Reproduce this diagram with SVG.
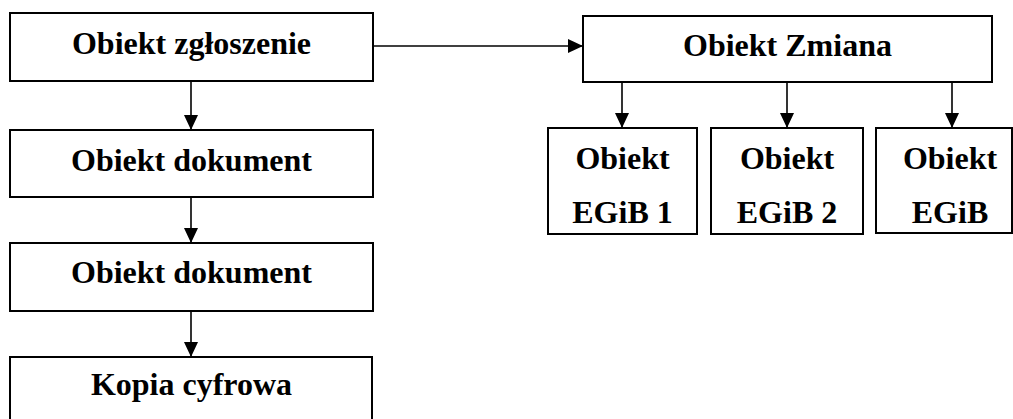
<svg xmlns="http://www.w3.org/2000/svg" width="1013" height="419" viewBox="0 0 1013 419">
<style>
.box{fill:#fff;stroke:#000;stroke-width:2}
.t{font-family:"Liberation Serif","Times New Roman",serif;font-weight:bold;font-size:32px;fill:#000;text-anchor:middle}
.c{fill:none;stroke:#000;stroke-width:1.6}
</style>
<defs>
<marker id="ah" markerUnits="userSpaceOnUse" markerWidth="15" markerHeight="14" refX="15" refY="7" orient="auto">
<path d="M0,0 L15,7 L0,14 z" fill="#000"/>
</marker>
</defs>
<rect width="1013" height="419" fill="#fff"/>
<g id="connectors">
<line class="c" x1="373" y1="46" x2="583" y2="46" marker-end="url(#ah)"/>
<line class="c" x1="191" y1="81" x2="191" y2="130" marker-end="url(#ah)"/>
<line class="c" x1="191" y1="197" x2="191" y2="243" marker-end="url(#ah)"/>
<line class="c" x1="191" y1="311" x2="191" y2="357" marker-end="url(#ah)"/>
<line class="c" x1="622" y1="82" x2="622" y2="128" marker-end="url(#ah)"/>
<line class="c" x1="787" y1="82" x2="787" y2="128" marker-end="url(#ah)"/>
<line class="c" x1="952" y1="82" x2="952" y2="128" marker-end="url(#ah)"/>
</g>
<g id="n-zgloszenie">
<rect class="box" x="10" y="13" width="363" height="68"/>
<text class="t" x="191.5" y="54">Obiekt zgłoszenie</text>
</g>
<g id="n-zmiana">
<rect class="box" x="583" y="16" width="409" height="66"/>
<text class="t" x="787.5" y="56">Obiekt Zmiana</text>
</g>
<g id="n-dokument1">
<rect class="box" x="10" y="130" width="363" height="67"/>
<text class="t" x="191.5" y="171">Obiekt dokument</text>
</g>
<g id="n-dokument2">
<rect class="box" x="10" y="243" width="363" height="68"/>
<text class="t" x="191.5" y="283">Obiekt dokument</text>
</g>
<g id="n-kopia">
<rect class="box" x="10" y="357" width="362" height="80"/>
<text class="t" x="191.5" y="395">Kopia cyfrowa</text>
</g>
<g id="n-egib1">
<rect class="box" x="548" y="128" width="149" height="106"/>
<text class="t" x="622.5" y="169">Obiekt</text>
<text class="t" x="622.5" y="223">EGiB 1</text>
</g>
<g id="n-egib2">
<rect class="box" x="711" y="128" width="152" height="106"/>
<text class="t" x="787" y="169">Obiekt</text>
<text class="t" x="787" y="223">EGiB 2</text>
</g>
<g id="n-egib3">
<rect class="box" x="876" y="128" width="136" height="105"/>
<text class="t" x="950" y="169">Obiekt</text>
<text class="t" x="950" y="223">EGiB</text>
</g>
</svg>
